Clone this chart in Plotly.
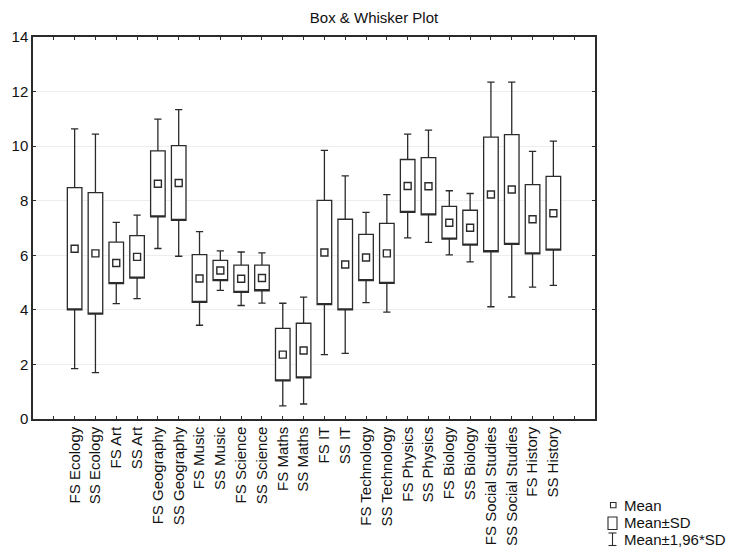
import plotly.graph_objects as go

categories = ["FS Ecology", "SS Ecology", "FS Art", "SS Art", "FS Geography", "SS Geography",
              "FS Music", "SS Music", "FS Science", "SS Science", "FS Maths", "SS Maths",
              "FS IT", "SS IT", "FS Technology", "SS Technology", "FS Physics", "SS Physics",
              "FS Biology", "SS Biology", "FS Social Studies", "SS Social Studies",
              "FS History", "SS History"]
means = [6.24, 6.07, 5.72, 5.94, 8.62, 8.65, 5.15, 5.44, 5.14, 5.17, 2.36, 2.51,
         6.10, 5.66, 5.92, 6.07, 8.54, 8.53, 7.19, 7.01, 8.23, 8.41, 7.32, 7.54]
sds = [2.24, 2.23, 0.76, 0.78, 1.21, 1.37, 0.875, 0.37, 0.50, 0.47, 0.96, 1.00,
       1.91, 1.66, 0.845, 1.10, 0.97, 1.05, 0.60, 0.64, 2.10, 2.01, 1.27, 1.35]
y_ticks = [0, 2, 4, 6, 8, 10, 12, 14]
legend_labels = ["Mean", "Mean\u00b1SD", "Mean\u00b11,96*SD"]
k = 1.96

FONT = "Liberation Sans, Arial, sans-serif"
LINE = "#2b2b2b"

n = len(categories)
pos = list(range(1, n + 1))
box_lo = [m - s for m, s in zip(means, sds)]
box_hi = [m + s for m, s in zip(means, sds)]
wh_lo = [m - k * s for m, s in zip(means, sds)]
wh_hi = [m + k * s for m, s in zip(means, sds)]

fig = go.Figure()
fig.add_trace(go.Box(
    x=pos, q1=box_lo, median=box_lo, q3=box_hi,
    lowerfence=wh_lo, upperfence=wh_hi,
    width=0.7, whiskerwidth=0.5,
    fillcolor="white", line=dict(color=LINE, width=1.3),
    boxpoints=False, showlegend=False, hoverinfo="skip",
))
fig.add_trace(go.Scatter(
    x=pos, y=means, mode="markers",
    marker=dict(symbol="square-open", size=7, color=LINE, line=dict(width=1.4, color=LINE)),
    showlegend=False, hoverinfo="skip",
))

# plot area in pixels
L, R, T, B = 33, 595, 37, 419
W, H = 733, 549


def px(x):
    return (x - L) / (R - L)


def py(y):
    return (B - y) / (B - T)


shapes = []
annotations = []
# legend row 1: mean marker
shapes.append(dict(type="rect", xref="paper", yref="paper",
                   x0=px(610.5), x1=px(616), y0=py(502.5), y1=py(507.8),
                   line=dict(color=LINE, width=1.1), fillcolor="white"))
# legend row 2: SD box
shapes.append(dict(type="rect", xref="paper", yref="paper",
                   x0=px(608), x1=px(617), y0=py(517), y1=py(529.5),
                   line=dict(color=LINE, width=1.1), fillcolor="white"))
# legend row 3: whisker
shapes.append(dict(type="line", xref="paper", yref="paper",
                   x0=px(612.5), x1=px(612.5), y0=py(533), y1=py(545.5),
                   line=dict(color=LINE, width=1.1)))
for yy in (533, 545.5):
    shapes.append(dict(type="line", xref="paper", yref="paper",
                       x0=px(608.5), x1=px(616.5), y0=py(yy), y1=py(yy),
                       line=dict(color=LINE, width=1.1)))
for lbl, yy in zip(legend_labels, (505, 522.5, 539.5)):
    annotations.append(dict(text=lbl, xref="paper", yref="paper", x=px(622), y=py(yy),
                            xanchor="left", yanchor="middle", showarrow=False,
                            font=dict(family=FONT, size=15, color="#111")))

tickvals_x = list(range(0, n + 2))
ticktext_x = [""] + categories + [""]

fig.update_layout(
    width=W, height=H,
    margin=dict(l=L, r=W - R, t=T, b=H - B, pad=0, autoexpand=False),
    paper_bgcolor="white", plot_bgcolor="white",
    title=dict(text="Box & Whisker Plot", x=374 / W, xref="container", xanchor="center",
               y=1 - 18 / H, yref="container", yanchor="middle",
               font=dict(family=FONT, size=15, color="#111")),
    xaxis=dict(range=[-1, n + 2], tickmode="array", tickvals=tickvals_x, ticktext=ticktext_x,
               tickangle=-90, ticks="inside", ticklen=3, tickwidth=1, tickcolor=LINE,
               showline=True, linecolor=LINE, linewidth=1.5, mirror="ticks",
               showgrid=False, zeroline=False, automargin=False,
               tickfont=dict(family=FONT, size=15, color="#111")),
    yaxis=dict(range=[0, 14], tickmode="array", tickvals=y_ticks,
               ticks="inside", ticklen=3, tickwidth=1, tickcolor=LINE,
               showline=True, linecolor=LINE, linewidth=1.5, mirror="ticks",
               showgrid=True, gridcolor="#ededed", gridwidth=1, zeroline=False,
               automargin=False,
               tickfont=dict(family=FONT, size=15, color="#111")),
    shapes=shapes, annotations=annotations,
    showlegend=False,
)

fig.write_html("out.html")
